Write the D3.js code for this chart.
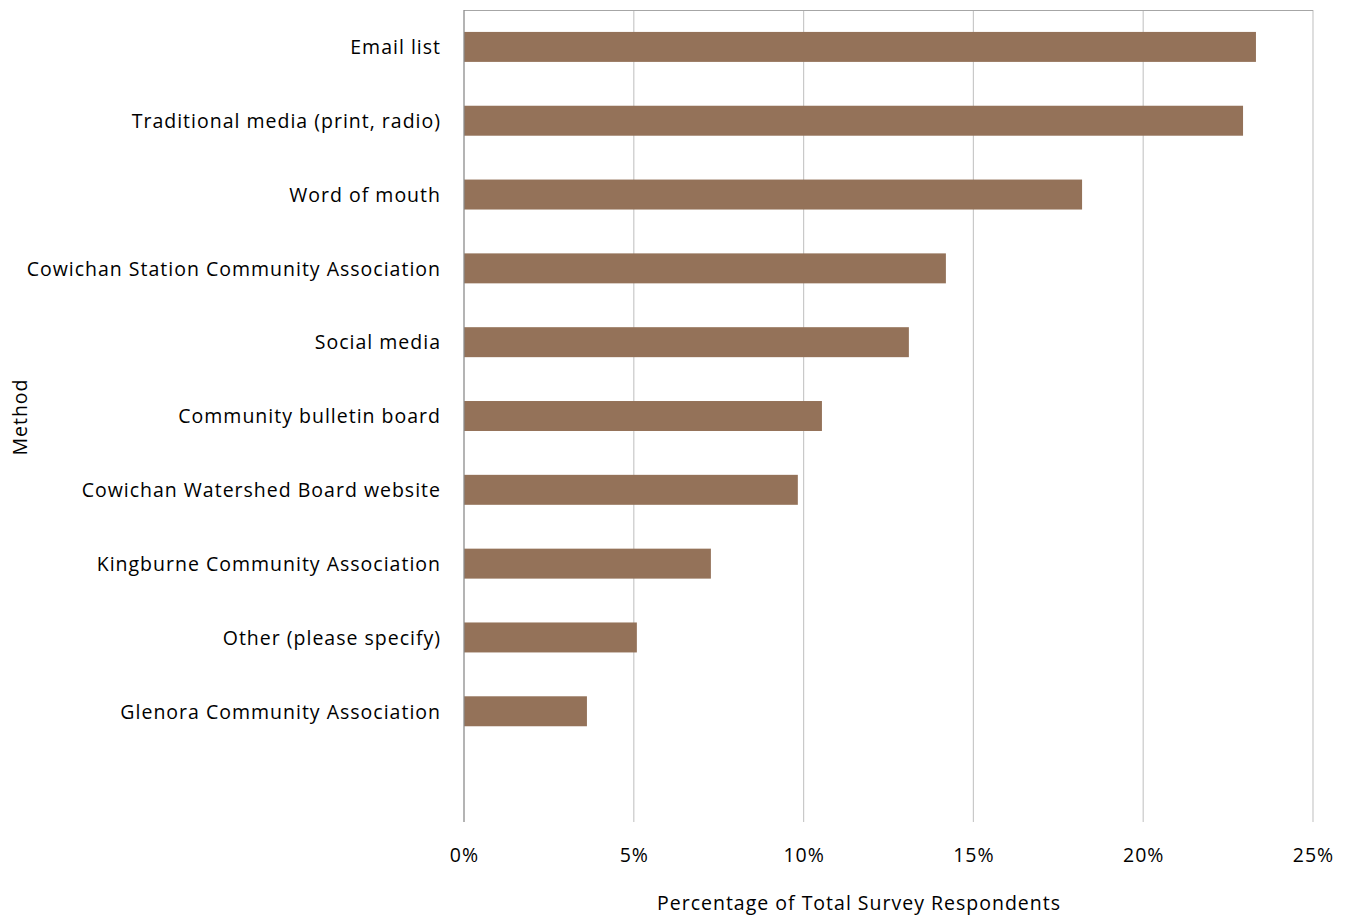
<!DOCTYPE html>
<html>
<head>
<meta charset="utf-8">
<script src="https://cdn.jsdelivr.net/npm/d3@7"></script>
<style>
  html, body { margin: 0; padding: 0; background: #fff; }
  svg { display: block; }
  text { font-family: "Open Sans", "Noto Sans", sans-serif; fill: #000; letter-spacing: 1px; }
</style>
</head>
<body>
<svg id="chart" width="1348" height="917"></svg>
<script>
// Survey: how respondents heard about the survey
const methods = [
  "Email list",
  "Traditional media (print, radio)",
  "Word of mouth",
  "Cowichan Station Community Association",
  "Social media",
  "Community bulletin board",
  "Cowichan Watershed Board website",
  "Kingburne Community Association",
  "Other (please specify)",
  "Glenora Community Association"
];
const shares = [23.32, 22.94, 18.2, 14.19, 13.1, 10.54, 9.83, 7.27, 5.09, 3.62];
const xTicks = [0, 5, 10, 15, 20, 25];

const svg = d3.select("#chart");
const plot = { left: 464, right: 1313, top: 10, bottom: 822 };

// one trailing empty slot below the last category
const slots = methods.concat([" "]);

const x = d3.scaleLinear().domain([0, 25]).range([plot.left, plot.right]);
const y = d3.scaleBand()
  .domain(slots)
  .range([plot.top, plot.bottom])
  .paddingInner(0.594)
  .paddingOuter(0.297);

const fontStack = '"Open Sans", "Noto Sans", sans-serif';

// vertical gridlines
svg.append("g")
  .selectAll("line")
  .data(xTicks.slice(1))
  .join("line")
  .attr("x1", d => x(d)).attr("x2", d => x(d))
  .attr("y1", plot.top).attr("y2", plot.bottom)
  .attr("stroke", "#c9c9c9")
  .attr("stroke-width", 1.2);

// top border
svg.append("line")
  .attr("x1", plot.left).attr("x2", plot.right)
  .attr("y1", plot.top + 0.5).attr("y2", plot.top + 0.5)
  .attr("stroke", "#a6a6a6").attr("stroke-width", 1.2);

// bars
svg.append("g")
  .selectAll("rect")
  .data(methods.map((m, i) => ({ m, v: shares[i] })))
  .join("rect")
  .attr("x", x(0))
  .attr("y", d => y(d.m))
  .attr("width", d => x(d.v) - x(0))
  .attr("height", y.bandwidth())
  .attr("fill", "#947259");

// category axis line
svg.append("line")
  .attr("x1", plot.left).attr("x2", plot.left)
  .attr("y1", plot.top).attr("y2", plot.bottom)
  .attr("stroke", "#8c8c8c").attr("stroke-width", 1.3);

// category labels
const yAxis = d3.axisLeft(y).tickSize(0).tickPadding(23)
  .tickValues(methods);
const gy = svg.append("g")
  .attr("transform", `translate(${plot.left},1)`)
  .call(yAxis);
gy.select(".domain").remove();
gy.selectAll("text")
  .style("font-family", fontStack)
  .attr("font-size", 19.5)
  .attr("fill", "#000");

// value axis labels
const xAxis = d3.axisBottom(x).tickValues(xTicks)
  .tickFormat(d => d + "%").tickSize(0).tickPadding(26);
const gx = svg.append("g")
  .attr("transform", `translate(0,${plot.bottom})`)
  .call(xAxis);
gx.select(".domain").remove();
gx.selectAll("text")
  .style("font-family", fontStack)
  .attr("font-size", 19.5)
  .attr("fill", "#000");

// axis titles
svg.append("text")
  .attr("x", 859).attr("y", 910)
  .attr("text-anchor", "middle")
  .attr("font-size", 19.5)
  .text("Percentage of Total Survey Respondents");

svg.append("text")
  .attr("transform", "translate(27,417) rotate(-90)")
  .attr("text-anchor", "middle")
  .attr("font-size", 19.5)
  .text("Method");
</script>
</body>
</html>
